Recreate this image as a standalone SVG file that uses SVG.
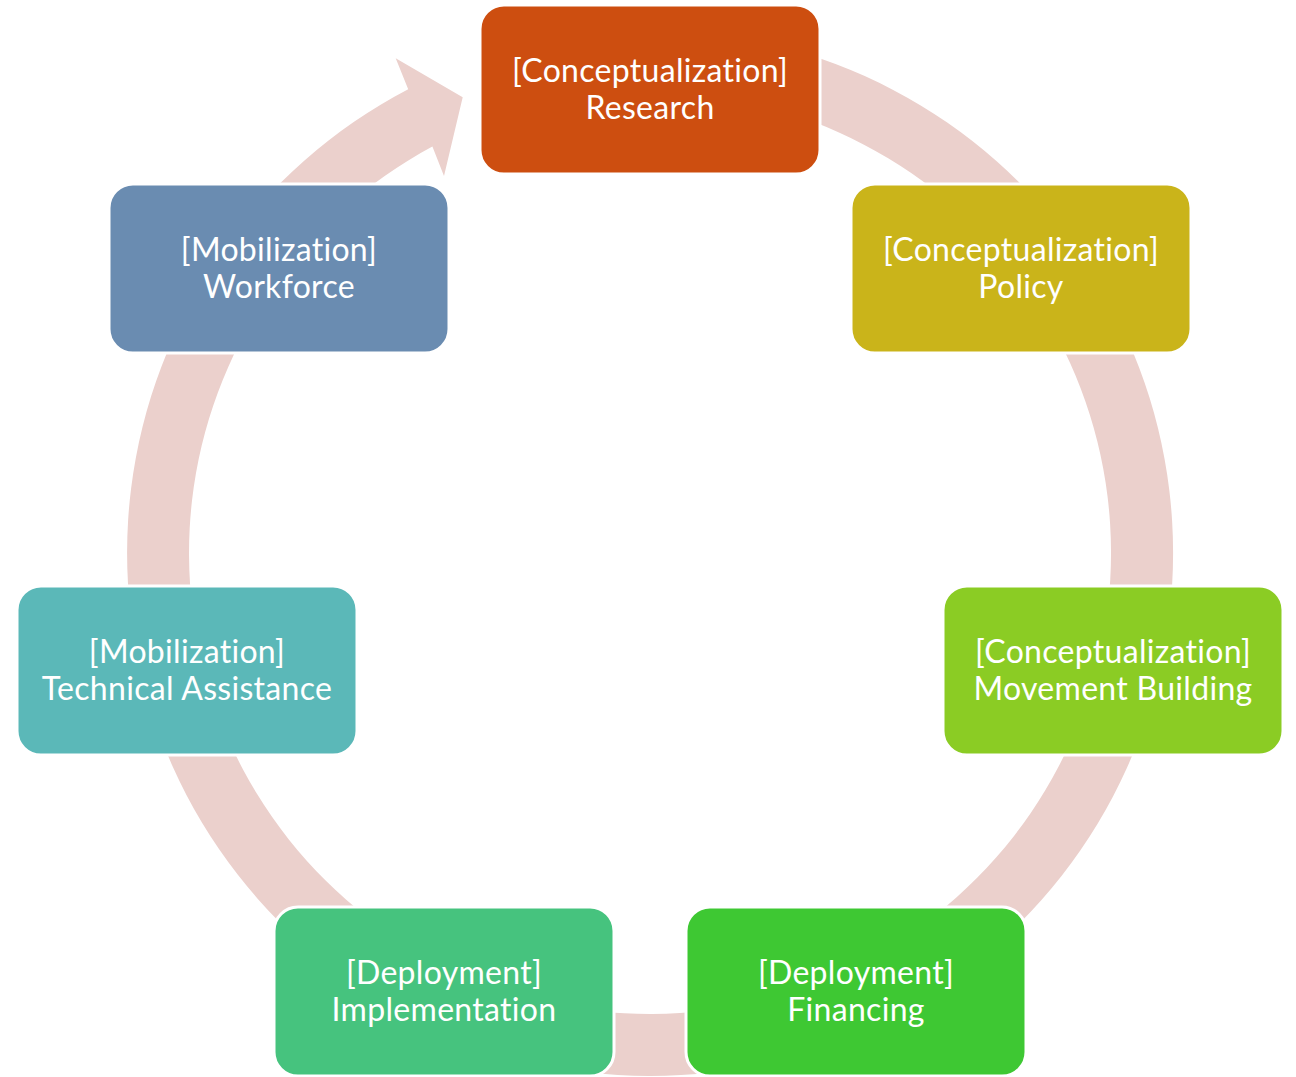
<svg xmlns="http://www.w3.org/2000/svg" width="1296" height="1077" viewBox="0 0 1296 1077">
  <style>
    .node rect { stroke: #FFFFFF; stroke-width: 3; }
    .node text { font-family: Lato, "Open Sans", "DejaVu Sans", sans-serif; font-size: 32px; letter-spacing: 0.3px; font-variant-ligatures: none; fill: #FFFFFF; text-anchor: middle; }
    .ring { fill: #EBD0CC; stroke: none; }
  </style>
  <rect x="0" y="0" width="1296" height="1077" fill="#FFFFFF"/>
  <g id="connectors">
    <path class="ring" d="M650,30 A523,523 0 1 1 408.2,89.3 L395.7,58.3 L462.7,97.3 L444,176 L432.4,146.6 A461,461 0 1 0 650,92 Z"/>
  </g>
  <g id="node-research" class="node">
    <rect x="480" y="5" width="340" height="169" rx="24" fill="#CD4E10"/>
    <text x="650" y="82">[Conceptualization]</text>
    <text x="650" y="119">Research</text>
  </g>
  <g id="node-policy" class="node">
    <rect x="851" y="184" width="340" height="169" rx="24" fill="#CAB41A"/>
    <text x="1021" y="261">[Conceptualization]</text>
    <text x="1021" y="298">Policy</text>
  </g>
  <g id="node-movement" class="node">
    <rect x="943" y="586" width="340" height="169" rx="24" fill="#8BCC24"/>
    <text x="1113" y="663">[Conceptualization]</text>
    <text x="1113" y="700">Movement Building</text>
  </g>
  <g id="node-financing" class="node">
    <rect x="686" y="907" width="340" height="169" rx="24" fill="#3EC833"/>
    <text x="856" y="984">[Deployment]</text>
    <text x="856" y="1021">Financing</text>
  </g>
  <g id="node-implementation" class="node">
    <rect x="274" y="907" width="340" height="169" rx="24" fill="#46C37E"/>
    <text x="444" y="984">[Deployment]</text>
    <text x="444" y="1021">Implementation</text>
  </g>
  <g id="node-technical" class="node">
    <rect x="17" y="586" width="340" height="169" rx="24" fill="#5BB8B8"/>
    <text x="187" y="663">[Mobilization]</text>
    <text x="187" y="700">Technical Assistance</text>
  </g>
  <g id="node-workforce" class="node">
    <rect x="109" y="184" width="340" height="169" rx="24" fill="#6A8CB1"/>
    <text x="279" y="261">[Mobilization]</text>
    <text x="279" y="298">Workforce</text>
  </g>
</svg>
